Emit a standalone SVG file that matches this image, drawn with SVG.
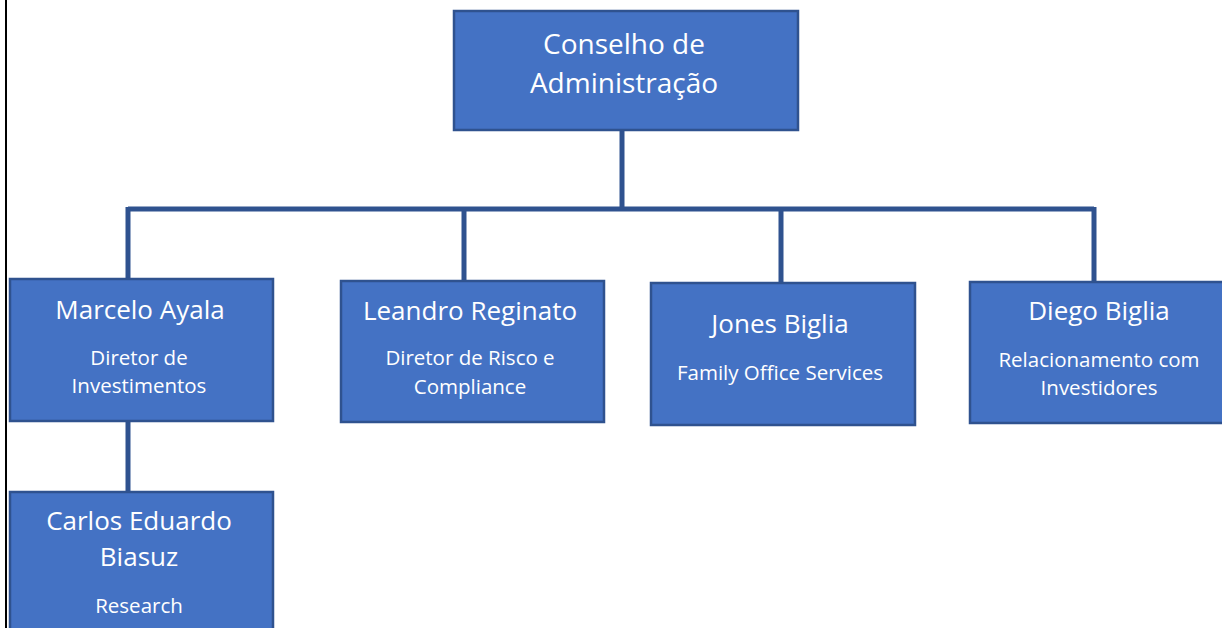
<svg xmlns="http://www.w3.org/2000/svg" width="1222" height="628" viewBox="0 0 1222 628">
<style>
.box{fill:#4472C4;stroke:#2F528F;stroke-width:2.5}
.t{font-family:"Open Sans","Liberation Sans",sans-serif;fill:#ffffff;text-anchor:middle}
.n{font-size:26px}
.s{font-size:20.5px}
.h{font-size:28px}
.c{stroke:#2F528F;stroke-width:5;fill:none}
</style>
<rect width="1222" height="628" fill="#ffffff"/>
<line x1="6" y1="0" x2="6" y2="628" stroke="#000" stroke-width="2"/>
<g id="connectors">
<path class="c" d="M622 131 V209 M128 209 H1094 M128 207 V279 M464 207 V281 M781 207 V283 M1094 207 V282 M128 421 V492"/>
</g>
<g id="conselho">
<rect class="box" x="454" y="11" width="344" height="119"/>
<text class="t h" x="624" y="54">Conselho de</text>
<text class="t h" x="624" y="93">Administração</text>
</g>
<g id="marcelo">
<rect class="box" x="10" y="279" width="263" height="142"/>
<text class="t n" x="140" y="319">Marcelo Ayala</text>
<text class="t s" x="139" y="365">Diretor de</text>
<text class="t s" x="139" y="393">Investimentos</text>
</g>
<g id="leandro">
<rect class="box" x="341" y="281" width="263" height="141"/>
<text class="t n" x="470" y="320">Leandro Reginato</text>
<text class="t s" x="470" y="365">Diretor de Risco e</text>
<text class="t s" x="470" y="394">Compliance</text>
</g>
<g id="jones">
<rect class="box" x="651" y="283" width="264" height="142"/>
<text class="t n" x="780" y="333">Jones Biglia</text>
<text class="t s" x="780" y="380">Family Office Services</text>
</g>
<g id="diego">
<rect class="box" x="970" y="282" width="256" height="141"/>
<text class="t n" x="1099" y="320">Diego Biglia</text>
<text class="t s" x="1099" y="367">Relacionamento com</text>
<text class="t s" x="1099" y="395">Investidores</text>
</g>
<g id="carlos">
<rect class="box" x="10" y="492" width="263" height="140"/>
<text class="t n" x="139" y="530">Carlos Eduardo</text>
<text class="t n" x="139" y="566">Biasuz</text>
<text class="t s" x="139" y="613">Research</text>
</g>
</svg>
